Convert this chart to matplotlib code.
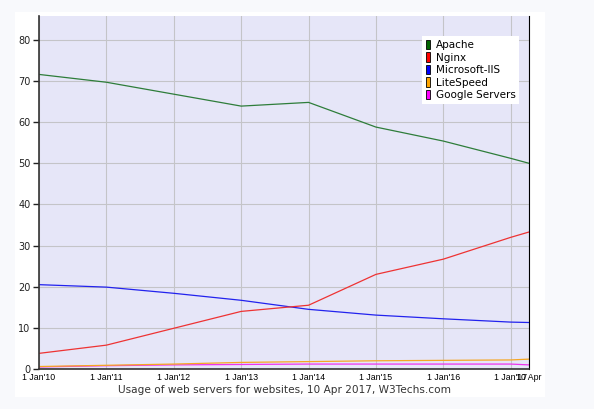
import numpy as np
import matplotlib.pyplot as plt

# x positions in years since 1 Jan 2010; last point is 10 Apr 2017
years = [0, 1, 2, 3, 4, 5, 6, 7, 7 + 99 / 365]
tick_pos = [0, 1, 2, 3, 4, 5, 6, 7, 7 + 99 / 365]
tick_labels = ["1 Jan'10", "1 Jan'11", "1 Jan'12", "1 Jan'13", "1 Jan'14",
               "1 Jan'15", "1 Jan'16", "1 Jan'17", "10 Apr"]

apache = [71.6, 69.7, 66.8, 63.9, 64.8, 58.8, 55.4, 51.2, 50.0]
nginx = [3.8, 5.8, 9.9, 14.0, 15.5, 23.0, 26.7, 32.0, 33.3]
iis = [20.5, 19.9, 18.4, 16.7, 14.5, 13.1, 12.2, 11.4, 11.3]
litespeed = [0.6, 0.9, 1.2, 1.6, 1.8, 2.0, 2.1, 2.2, 2.4]
google = [0.5, 0.8, 1.0, 1.1, 1.2, 1.2, 1.2, 1.2, 1.0]

names = ["Apache", "Nginx", "Microsoft-IIS", "LiteSpeed", "Google Servers"]
series = [apache, nginx, iis, litespeed, google]
line_cols = ["#2e7d3a", "#ee3333", "#2222ee", "#f5a623", "#ee33ee"]
box_cols = ["#006400", "#ff0000", "#0000ff", "#ffa500", "#ff00ff"]

fig = plt.figure(figsize=(5.94, 4.09), dpi=100, facecolor="#f8f9fc")
# white panel behind the chart
bg = fig.add_axes([15 / 594, 1 - 397 / 409, 530 / 594, 385 / 409])
bg.set_facecolor("white")
bg.set_xticks([])
bg.set_yticks([])
for s in bg.spines.values():
    s.set_visible(False)

ax = fig.add_axes([39 / 594, 1 - 369 / 409, 490 / 594, 353 / 409])
ax.set_facecolor("#e6e6f8")

for vals, c in zip(series[::-1], line_cols[::-1]):
    ax.plot(years, vals, color=c, lw=0.9)

ax.set_xlim(0, 7 + 99 / 365)
ax.set_ylim(0, 85.8)
ax.set_yticks(range(0, 81, 10))
ax.set_xticks(tick_pos)
ax.set_xticklabels(tick_labels, fontsize=6.3, family="Liberation Sans")
ax.tick_params(axis="x", length=0, pad=3)
ax.tick_params(axis="y", length=4, width=1, labelsize=7, colors="#222222", pad=2)
ax.grid(True, color="#c4c4c8", lw=0.8)
ax.set_axisbelow(True)
for s in ["left", "bottom"]:
    ax.spines[s].set_color("#333333")
    ax.spines[s].set_linewidth(1.2)
ax.spines["right"].set_color("black")
ax.spines["top"].set_visible(False)

# legend
handles = [plt.Rectangle((0, 0), 1, 1, facecolor=c, edgecolor="black", lw=0.6)
           for c in box_cols]
leg = ax.legend(handles, names, loc="upper left", bbox_to_anchor=(0.782, 0.943),
                fontsize=7.5, frameon=True, fancybox=False, handlelength=0.42,
                handleheight=1.0, handletextpad=0.55, labelspacing=0.22,
                borderpad=0.35, borderaxespad=0)
leg.get_frame().set_facecolor("white")
leg.get_frame().set_edgecolor("none")
leg.get_frame().set_alpha(1)

fig.text(284 / 594, 1 - 390 / 409,
         "Usage of web servers for websites, 10 Apr 2017, W3Techs.com",
         ha="center", va="center", fontsize=7.6, color="#333333")

fig.savefig("out.png", dpi=100, facecolor=fig.get_facecolor())
